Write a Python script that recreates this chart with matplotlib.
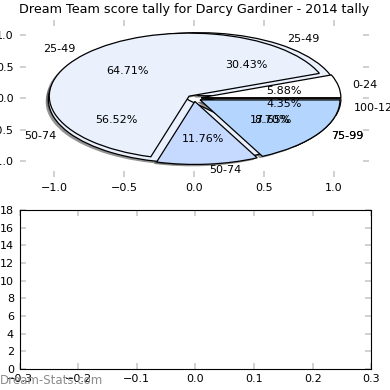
import matplotlib
matplotlib.use('Agg')
import matplotlib.pyplot as plt
from matplotlib.patches import Wedge

# score bands and share of games for the two seasons in the tally
bands_a = ['0-24', '25-49', '50-74', '75-99']
games_a = [1, 11, 2, 3]
colors_a = ['#ffffff', '#eaf1fd', '#c6d9fe', '#b4d6fe']

bands_b = ['25-49', '50-74', '75-99', '100-124']
games_b = [7, 13, 2, 1]
colors_b = ['#eaf1fd', '#eaf1fd', '#b4d6fe', '#ffffff']

title = 'Dream Team score tally for Darcy Gardiner - 2014 tally'
xticks_top = [-1.0, -0.5, 0.0, 0.5, 1.0]
yticks_top = [-1.0, -0.5, 0.0, 0.5, 1.0]
xticks_bot = [-0.3, -0.2, -0.1, 0.0, 0.1, 0.2, 0.3]
yticks_bot = list(range(0, 19, 2))

plt.rcParams['font.size'] = 8

fig = plt.figure(figsize=(3.9, 3.9), dpi=100)
ax1 = fig.add_axes([0.05, 0.546, 0.896, 0.404])
ax2 = fig.add_axes([0.05, 0.054, 0.902, 0.408])

wedge = dict(edgecolor='black', linewidth=0.9)


def add_shadows(ax, patches):
    # old-style pie shadow: dark copy of each wedge nudged down-left
    for w in patches:
        cx, cy = w.center
        s = Wedge((cx - 0.02, cy - 0.03), w.r, w.theta1, w.theta2,
                  facecolor='#3a3a3a', edgecolor='none', alpha=0.55,
                  zorder=0.5)
        ax.add_patch(s)


for games, bands, cols in ((games_b, bands_b, colors_b),
                           (games_a, bands_a, colors_a)):
    patches, _, _ = ax1.pie(games, labels=bands, colors=cols,
                            autopct='%1.2f%%', explode=[0.05] * len(games),
                            wedgeprops=wedge, textprops=dict(fontsize=8))
    add_shadows(ax1, patches)

ax1.set_aspect('auto')
ax1.set_frame_on(False)
ax1.set_xlim(-1.25, 1.25)
ax1.set_ylim(-1.25, 1.25)
ax1.set_xticks(xticks_top)
ax1.set_yticks(yticks_top)
ax1.set_title(title, fontsize=9.2, pad=5)

ax2.set_xlim(-0.3, 0.3)
ax2.set_ylim(0, 18)
ax2.set_xticks(xticks_bot)
ax2.set_yticks(yticks_bot)

for ax in (ax1, ax2):
    ax.tick_params(direction='in', length=4, width=1.2, color='#c8c8c8',
                   top=True, right=True, labelsize=8, pad=4)

fig.text(0.0, 0.024, 'Dream-Stats.com', fontsize=8.5, color='#8c8c8c',
         ha='left', va='center')

fig.savefig('out.png', dpi=100)
